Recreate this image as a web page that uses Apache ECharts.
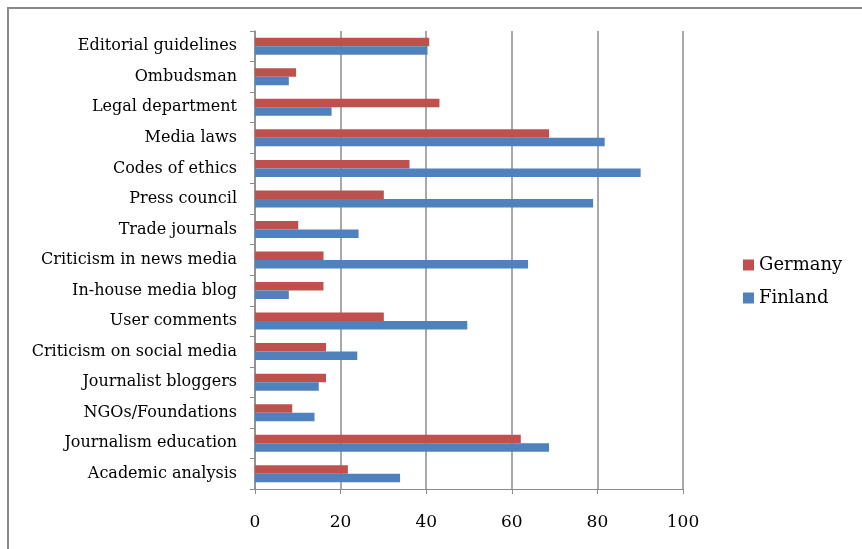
<!DOCTYPE html>
<html>
<head>
<meta charset="utf-8">
<script src="https://cdn.jsdelivr.net/npm/echarts@6/dist/echarts.min.js"></script>
<style>
  html, body { margin: 0; padding: 0; background: #fff; }
  #chart { width: 862px; height: 549px; }
</style>
</head>
<body>
<div id="chart"></div>
<script>
// categories listed bottom to top, as the y axis draws them
const categories = [
  'Academic analysis',
  'Journalism education',
  'NGOs/Foundations',
  'Journalist bloggers',
  'Criticism on social media',
  'User comments',
  'In-house media blog',
  'Criticism in news media',
  'Trade journals',
  'Press council',
  'Codes of ethics',
  'Media laws',
  'Legal department',
  'Ombudsman',
  'Editorial guidelines'
]
const germany = [21.7, 62.1, 8.7, 16.6, 16.6, 30.1, 16.0, 16.0, 10.1, 30.1, 36.1, 68.7, 43.1, 9.6, 40.7]
const finland = [33.9, 68.7, 13.9, 14.9, 23.9, 49.6, 7.9, 63.8, 24.2, 79.0, 90.1, 81.7, 17.9, 7.9, 40.3]
const xTicks = { min: 0, max: 100, interval: 20 }

const chart = echarts.init(document.getElementById('chart'))
const serif = '"DejaVu Serif", "Liberation Serif", serif'
const gray = '#8c8c8c'

const option = {
  backgroundColor: '#fff',
  animation: false,
  graphic: [
    {
      type: 'rect',
      shape: { x: 8, y: 8, width: 900, height: 600 },
      style: { fill: 'none', stroke: '#8a8a8a', lineWidth: 2 }
    }
  ],
  legend: {
    orient: 'vertical',
    left: 738,
    top: 251,
    itemWidth: 11,
    itemHeight: 11,
    itemGap: 15,
    icon: 'rect',
    data: ['Germany', 'Finland'],
    textStyle: { fontFamily: serif, fontSize: 18, color: '#000' }
  },
  grid: { left: 255, right: 179, top: 31, bottom: 60 },
  xAxis: {
    type: 'value',
    min: xTicks.min,
    max: xTicks.max,
    interval: xTicks.interval,
    axisLine: { show: true, lineStyle: { color: gray, width: 1 } },
    axisTick: { show: true, length: 5, lineStyle: { color: gray } },
    axisLabel: { fontFamily: serif, fontSize: 17, color: '#000', margin: 25 },
    splitLine: { show: true, lineStyle: { color: gray, width: 1.5 } }
  },
  yAxis: {
    type: 'category',
    data: categories,
    axisLine: { show: true, lineStyle: { color: gray, width: 1.5 } },
    axisTick: { show: true, length: 5, lineStyle: { color: gray } },
    axisLabel: { fontFamily: serif, fontSize: 16, color: '#000', margin: 18, padding: [5, 0, 0, 0] }
  },
  series: [
    {
      name: 'Germany',
      type: 'bar',
      data: germany,
      barWidth: 8.5,
      barGap: '0%',
      itemStyle: { color: '#C0504D' }
    },
    {
      name: 'Finland',
      type: 'bar',
      data: finland,
      barWidth: 8.5,
      barGap: '0%',
      itemStyle: { color: '#4F81BD' }
    }
  ]
}

chart.setOption(option)
</script>
</body>
</html>
